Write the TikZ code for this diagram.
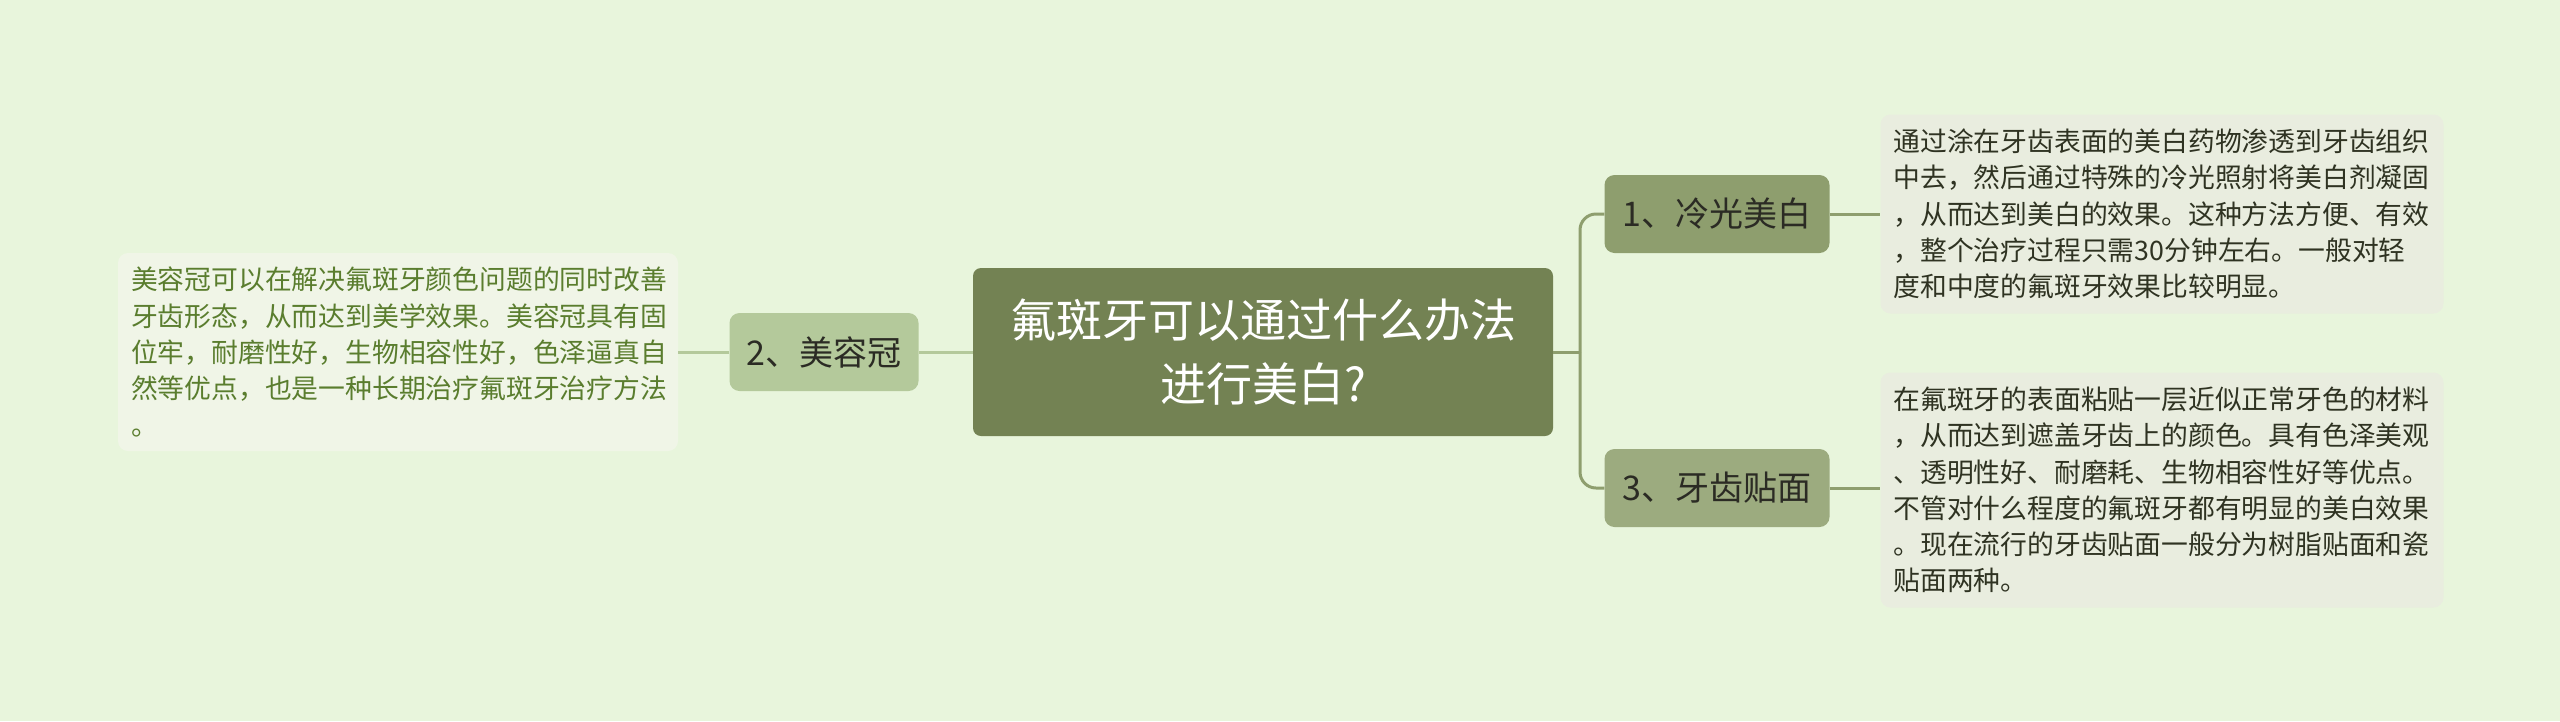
\documentclass[tikz,border=0pt]{standalone}
\usepackage{fontspec}
\setmainfont{Noto Sans CJK SC}
\definecolor{bg}{HTML}{E8F5DC}
\definecolor{cfill}{HTML}{738253}
\definecolor{n1fill}{HTML}{8E9E6E}
\definecolor{n3fill}{HTML}{9CAB7F}
\definecolor{n2fill}{HTML}{B4C99B}
\definecolor{rline}{HTML}{8E9E6E}
\definecolor{lline}{HTML}{B4C99B}
\definecolor{rbox}{HTML}{E9EDDF}
\definecolor{lbox}{HTML}{F0F5E7}
\definecolor{rtext}{HTML}{2F3322}
\definecolor{ltext}{HTML}{5A7D2E}
\definecolor{ntext}{HTML}{2B2B24}
\tikzset{
  central/.style={fill=cfill, rounded corners=8pt, text=white, minimum width=580pt, minimum height=168pt, align=center, font=\fontsize{46}{64}\selectfont, inner sep=0pt},
  branch/.style={rounded corners=10pt, text=ntext, minimum height=78pt, inner sep=0pt, font=\fontsize{34}{40}\selectfont},
  leaf/.style={rounded corners=10pt, minimum width=563pt, text width=537pt, align=left, inner xsep=13pt, inner ysep=0pt, font=\fontsize{26.8}{36.3}\selectfont},
  conn/.style={line width=3pt}
}
\begin{document}
\begin{tikzpicture}[x=1pt,y=-1pt]
\useasboundingbox (0,0) rectangle (2560,721);
\fill[bg] (0,0) rectangle (2560,721);
\node[central] (c) at (1263,352) {氟斑牙可以通过什么办法\\进行美白?};
\node[branch, fill=n2fill, minimum width=189pt] (n2) at (824,352) {2、美容冠};
\node[branch, fill=n1fill, minimum width=225pt] (n1) at (1717,214) {1、冷光美白};
\node[branch, fill=n3fill, minimum width=225pt] (n3) at (1717,488) {3、牙齿贴面};
\node[leaf, fill=lbox, text=ltext, minimum width=560pt, text width=534pt, minimum height=198pt] (lt) at (398,352) {美容冠可以在解决氟斑牙颜色问题的同时改善\\牙齿形态，从而达到美学效果。美容冠具有固\\位牢，耐磨性好，生物相容性好，色泽逼真自\\然等优点，也是一种长期治疗氟斑牙治疗方法\\。};
\node[leaf, fill=rbox, text=rtext, minimum height=199pt] (t1) at (2162,214) {通过涂在牙齿表面的美白药物渗透到牙齿组织\\中去，然后通过特殊的冷光照射将美白剂凝固\\，从而达到美白的效果。这种方法方便、有效\\，整个治疗过程只需30分钟左右。一般对轻\\度和中度的氟斑牙效果比较明显。};
\node[leaf, fill=rbox, text=rtext, minimum height=235pt] (t3) at (2162,490) {在氟斑牙的表面粘贴一层近似正常牙色的材料\\，从而达到遮盖牙齿上的颜色。具有色泽美观\\、透明性好、耐磨耗、生物相容性好等优点。\\不管对什么程度的氟斑牙都有明显的美白效果\\。现在流行的牙齿贴面一般分为树脂贴面和瓷\\贴面两种。};
\coordinate (cj) at (1580,352);
\draw[conn, rline] (c.east) -- (cj);
\draw[conn, rline, rounded corners=16pt] (cj) |- (n1.west);
\draw[conn, rline, rounded corners=16pt] (cj) |- (n3.west);
\draw[conn, rline] (n1.east) -- (t1.west |- n1.east);
\draw[conn, rline] (n3.east) -- (t3.west |- n3.east);
\draw[conn, lline] (c.west) -- (n2.east);
\draw[conn, lline] (n2.west) -- (lt.east);
\end{tikzpicture}
\end{document}
